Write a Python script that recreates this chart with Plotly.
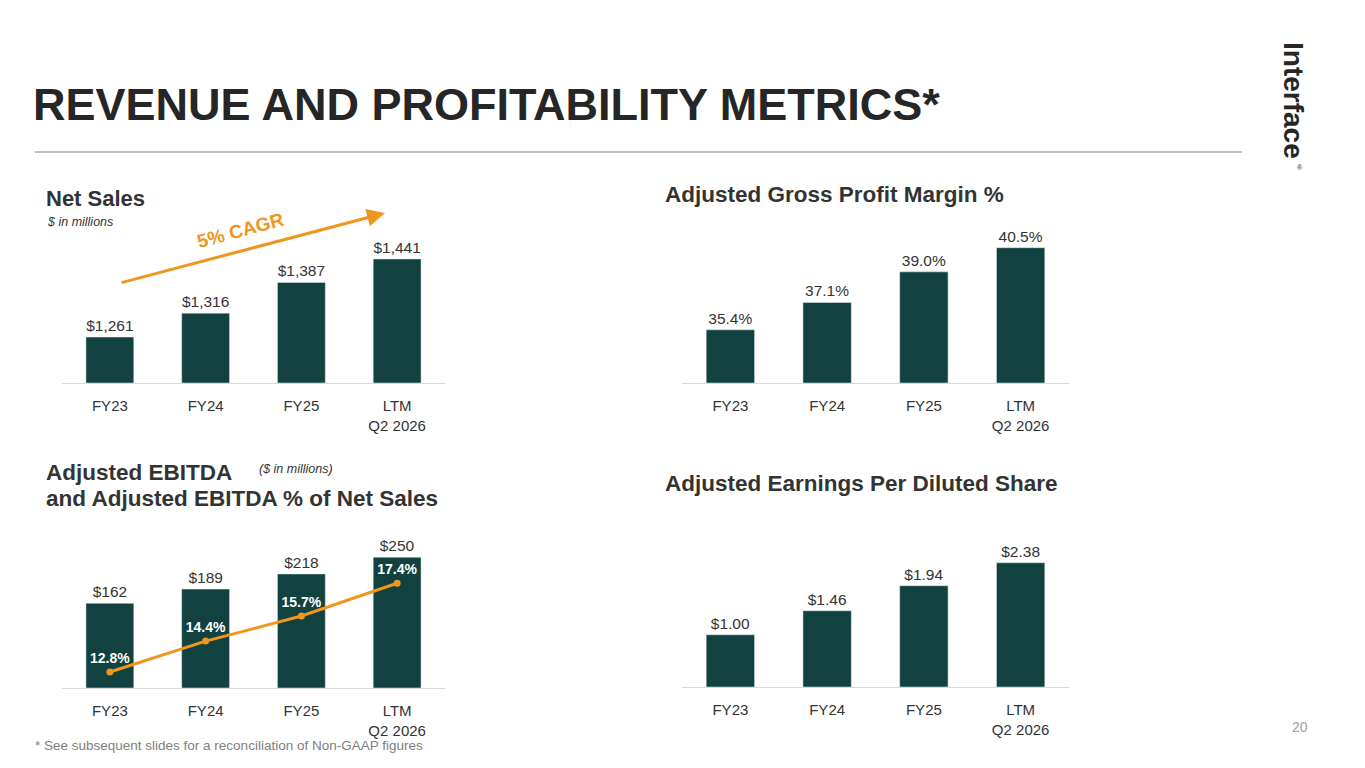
import plotly.graph_objects as go

cats = ["FY23", "FY24", "FY25", "LTM<br>Q2 2026"]
net_sales = [1261, 1316, 1387, 1441]
net_sales_lbl = ["$1,261", "$1,316", "$1,387", "$1,441"]
gpm = [35.4, 37.1, 39.0, 40.5]
gpm_lbl = ["35.4%", "37.1%", "39.0%", "40.5%"]
ebitda = [162, 189, 218, 250]
ebitda_lbl = ["$162", "$189", "$218", "$250"]
ebitda_pct = [12.8, 14.4, 15.7, 17.4]
ebitda_pct_lbl = ["12.8%", "14.4%", "15.7%", "17.4%"]
eps = [1.00, 1.46, 1.94, 2.38]
eps_lbl = ["$1.00", "$1.46", "$1.94", "$2.38"]

W, H = 1365, 768
BAR = "#12423F"
ORANGE = "#F0961E"
FONT = "Liberation Sans, Arial, sans-serif"

def px(x): return (x - 8) / W
def py(y): return 1 - (y - 8) / H

fig = go.Figure()
tf = dict(size=15.5, color="#333333", family=FONT)

fig.add_trace(go.Bar(x=cats, y=[v - 1155 for v in net_sales], base=1155, text=net_sales_lbl,
                     textposition="outside", textfont=tf, marker_color=BAR, cliponaxis=False,
                     xaxis="x", yaxis="y", hoverinfo="skip"))
fig.add_trace(go.Bar(x=cats, y=[v - 32.1 for v in gpm], base=32.1, text=gpm_lbl,
                     textposition="outside", textfont=tf, marker_color=BAR, cliponaxis=False,
                     xaxis="x2", yaxis="y2", hoverinfo="skip"))
fig.add_trace(go.Bar(x=cats, y=ebitda, text=ebitda_lbl, textposition="outside", textfont=tf,
                     marker_color=BAR, cliponaxis=False, xaxis="x3", yaxis="y3", hoverinfo="skip"))
fig.add_trace(go.Scatter(x=cats, y=ebitda_pct, mode="lines+markers+text", text=ebitda_pct_lbl,
                         textposition="top center",
                         textfont=dict(size=14, color="white", family=FONT, weight="bold"),
                         line=dict(color=ORANGE, width=3), marker=dict(color=ORANGE, size=7),
                         xaxis="x3", yaxis="y5", cliponaxis=False, hoverinfo="skip"))
fig.add_trace(go.Bar(x=cats, y=eps, text=eps_lbl, textposition="outside", textfont=tf,
                     marker_color=BAR, cliponaxis=False, xaxis="x4", yaxis="y4", hoverinfo="skip"))

def xax(x0, x1, anchor):
    return dict(domain=[px(x0), px(x1)], anchor=anchor, showgrid=False, showline=True,
                linecolor="#D9D9D9", linewidth=1, ticks="", tickfont=dict(size=15, color="#333333", family=FONT),
                ticklabelstandoff=9, fixedrange=True)

def yax(top, bot, rng, **kw):
    d = dict(domain=[py(bot), py(top)], range=rng, visible=False, showgrid=False, fixedrange=True)
    d.update(kw)
    return d

L = (62, 445)
R = (682, 1069)
fig.update_layout(
    width=W, height=H, margin=dict(l=0, r=0, t=0, b=0),
    paper_bgcolor="white", plot_bgcolor="white", showlegend=False, bargap=0.5,
    font=dict(family=FONT),
    xaxis=xax(*L, "y"), yaxis=yax(200, 383, [1155, 1577]),
    xaxis2=xax(*R, "y2"), yaxis2=yax(220, 383, [32.1, 42.22]),
    xaxis3=xax(*L, "y3"), yaxis3=yax(530, 688, [0, 302]),
    yaxis5=yax(530, 688, [11.97, 20.16], overlaying="y3", anchor="x3"),
    xaxis4=xax(*R, "y4"), yaxis4=yax(540, 687, [0, 2.816]),
)

def txt(x, y, s, size, color="#333333", bold=False, italic=False, xanchor="left", angle=0):
    fig.add_annotation(x=px(x), y=py(y), xref="paper", yref="paper", text=s, showarrow=False,
                       xanchor=xanchor, yanchor="middle", textangle=angle,
                       font=dict(size=size, color=color, family=FONT, weight="bold" if bold else "normal",
                                 style="italic" if italic else "normal"))

txt(31, 104, "REVENUE AND PROFITABILITY METRICS*", 45, color="#262626", bold=True)
fig.add_shape(type="line", xref="paper", yref="paper", x0=px(35), x1=px(1242), y0=py(152), y1=py(152),
              line=dict(color="#808080", width=1))
txt(1293, 100, "Interface", 28, color="#262626", bold=True, xanchor="center", angle=90)
txt(1300, 167, "®", 7, xanchor="center")
txt(44, 198, "Net Sales", 22, bold=True)
txt(45, 222, "$ in millions", 12.5, italic=True)
txt(663, 194, "Adjusted Gross Profit Margin %", 22.5, bold=True)
txt(44, 472, "Adjusted EBITDA", 22.5, bold=True)
txt(44, 498, "and Adjusted EBITDA % of Net Sales", 22.5, bold=True)
txt(257, 469, "($ in millions)", 12.5, italic=True)
txt(663, 483, "Adjusted Earnings Per Diluted Share", 22.5, bold=True)
txt(33, 745, "* See subsequent slides for a reconciliation of Non-GAAP figures", 13.5, color="#808080")
txt(1310, 727, "20", 14, color="#A0A0A0", xanchor="right")

fig.add_annotation(x=px(385), y=py(213), ax=-265, ay=70, xref="paper", yref="paper",
                   axref="pixel", ayref="pixel", showarrow=True, arrowhead=2, arrowsize=1.2,
                   arrowwidth=3, arrowcolor=ORANGE, text="")
txt(240, 230, "5% CAGR", 19, color=ORANGE, bold=True, xanchor="center", angle=-15)

fig.write_html("out.html")
